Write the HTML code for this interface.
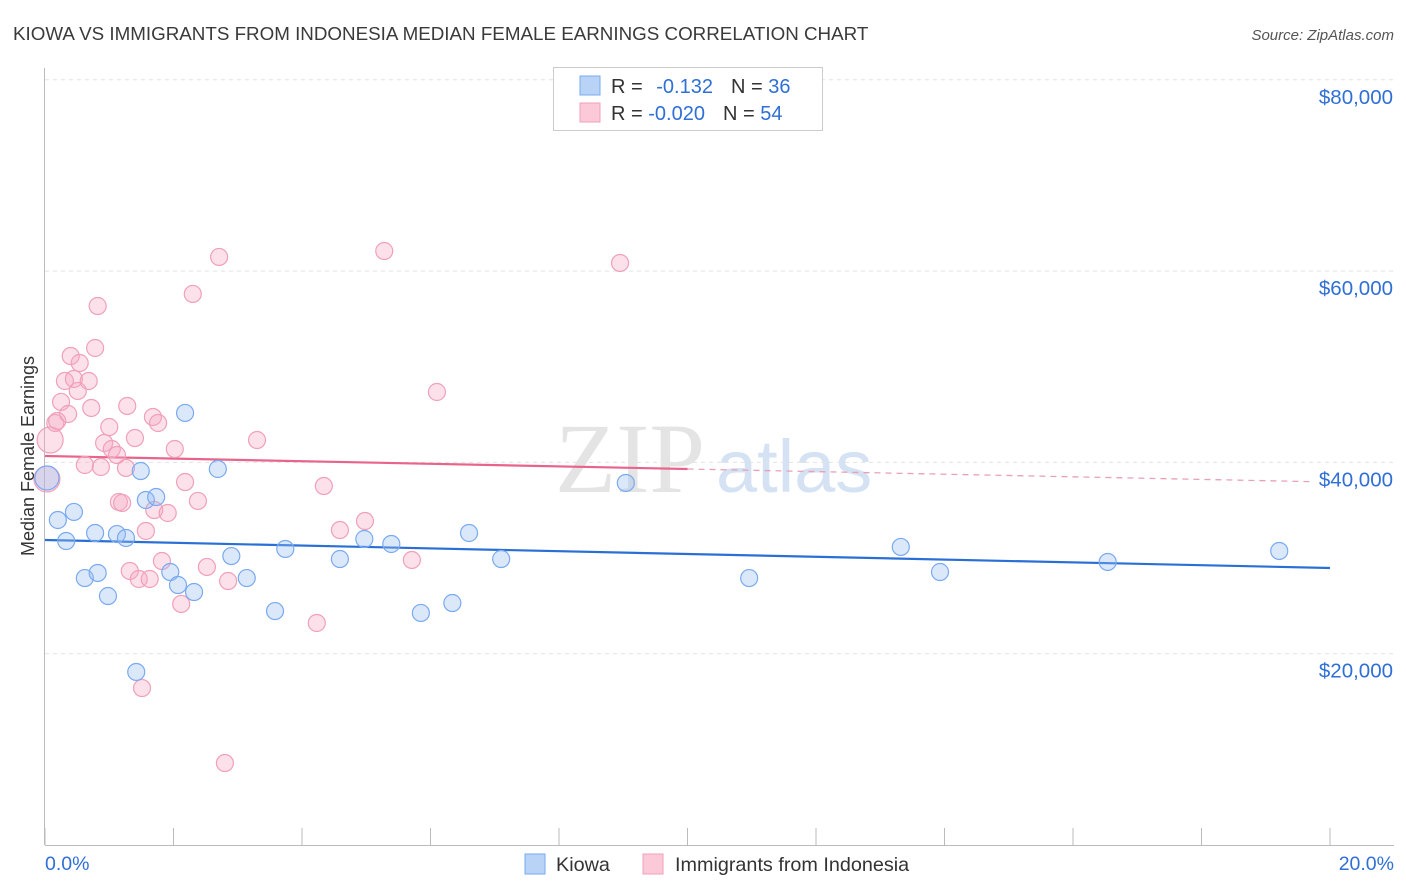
<!DOCTYPE html>
<html><head><meta charset="utf-8">
<style>
body{margin:0;background:#fff;font-family:"Liberation Sans",sans-serif;}
svg{display:block}
</style></head>
<body>
<svg id="chart" width="1406" height="892">
<text x="13" y="40" font-size="18.8" fill="#3a3a3a">KIOWA VS IMMIGRANTS FROM INDONESIA MEDIAN FEMALE EARNINGS CORRELATION CHART</text>
<text x="1394" y="40" font-size="15" fill="#555" font-style="italic" text-anchor="end">Source: ZipAtlas.com</text>
<text x="555" y="492" font-size="100" fill="#e4e4e4" font-family="Liberation Serif,serif">ZIP</text>
<text x="716" y="492" font-size="74" fill="#d4e2f4">atlas</text>
<g id="grid"></g>
<g id="axes"></g>
<g id="trends"></g>
<g id="pts"></g>
<text transform="translate(34,456) rotate(-90)" font-size="18" fill="#333" text-anchor="middle">Median Female Earnings</text>
<g>
<rect x="553.5" y="67.5" width="269" height="63" fill="#fff" stroke="#ccc"/>
<rect x="580" y="76" width="20" height="19" fill="#b8d3f5" stroke="#7aaaf0"/>
<rect x="580" y="103" width="20" height="19" fill="#fbc9d8" stroke="#f0a0b8"/>
<text x="611" y="93" font-size="20" fill="#333">R = <tspan fill="#2f6fd6" dx="8">-0.132</tspan><tspan dx="18" fill="#333">N = </tspan><tspan fill="#2f6fd6">36</tspan></text>
<text x="611" y="120" font-size="20" fill="#333">R = <tspan fill="#2f6fd6">-0.020</tspan><tspan dx="18" fill="#333">N = </tspan><tspan fill="#2f6fd6">54</tspan></text>
</g>
<g>
<rect x="525" y="854" width="20" height="20" fill="#b8d3f5" stroke="#7aaaf0"/>
<text x="556" y="871" font-size="19.8" fill="#333">Kiowa</text>
<rect x="643" y="854" width="20" height="20" fill="#fbc9d8" stroke="#f0a0b8"/>
<text x="675" y="871" font-size="19.8" fill="#333">Immigrants from Indonesia</text>
</g>
</svg>
<script>
const yTicks=[20000,40000,60000,80000];
const yTickLabels=["$20,000","$40,000","$60,000","$80,000"];
const xTicks=[0,2,4,6,8,10,12,14,16,18,20];
const kiowaX=[0.03,0.20,0.33,0.45,0.62,0.78,0.82,0.98,1.12,1.26,1.42,1.49,1.57,1.73,1.95,2.07,2.18,2.32,2.69,2.90,3.14,3.58,3.74,4.59,4.97,5.39,5.85,6.34,6.60,7.10,9.04,10.96,13.32,13.93,16.54,19.21];
const kiowaY=[38370,33980,31780,34820,27910,32620,28440,26030,32510,32100,18090,39100,36070,36380,28540,27180,45170,26450,39310,30210,27910,24460,30950,29900,31990,31470,24260,25300,32620,29900,37850,27910,31160,28540,29590,30740];
const indoX=[0.03,0.08,0.16,0.19,0.25,0.31,0.36,0.40,0.45,0.51,0.54,0.62,0.68,0.72,0.78,0.82,0.87,0.92,1.00,1.04,1.12,1.15,1.20,1.26,1.28,1.32,1.40,1.46,1.51,1.57,1.63,1.68,1.70,1.76,1.82,1.91,2.02,2.12,2.18,2.30,2.38,2.52,2.71,2.80,2.85,3.30,4.23,4.34,4.59,4.98,5.28,5.71,6.10,8.95];
const indoY=[38270,42340,44120,44330,46320,48510,45060,51120,48720,47470,50390,39730,48510,45690,51960,56350,39520,42030,43700,41400,40770,35860,35760,39420,45900,28650,42550,27810,16410,32830,27810,44750,35020,44120,29690,34710,41400,25200,37950,57610,35970,29070,61480,8570,27600,42340,23210,37530,32930,33870,62100,29800,47360,60850];
const kiowaTrend=[31890,28960];
const indoTrend=[40670,37950];
const NS="http://www.w3.org/2000/svg";
const X=v=>45+v/20*1285;
const Y=v=>845-v/20000*191.3;
function mk(tag,attrs,parent){const e=document.createElementNS(NS,tag);for(const k in attrs)e.setAttribute(k,attrs[k]);document.getElementById(parent).appendChild(e);return e;}
yTicks.forEach((t,i)=>{
 const g=mk('line',{x1:45,x2:1394,y1:Y(t),y2:Y(t),stroke:'#e2e2e2','stroke-dasharray':'4,4'},'grid');
 
 
 const l=mk('text',{x:1393,y:Y(t)+24,'font-size':20.5,fill:'#2f6fd6','text-anchor':'end'},'axes');
 l.textContent=yTickLabels[i];
 
 
});
const ya=mk('line',{x1:44.5,x2:44.5,y1:68,y2:845,stroke:'#bbb'},'axes');


const xa=mk('line',{x1:45,x2:1394,y1:845.5,y2:845.5,stroke:'#bbb'},'axes');


xTicks.forEach(t=>{
 const e=mk('line',{x1:X(t),x2:X(t),y1:828,y2:845,stroke:'#bbb'},'axes');
 
 
});
const xl0=mk('text',{x:45,y:870,'font-size':19.5,fill:'#2f6fd6'},'axes');xl0.textContent='0.0%';


const xl1=mk('text',{x:1394,y:870,'font-size':19.5,fill:'#2f6fd6','text-anchor':'end'},'axes');xl1.textContent='20.0%';


const kt=mk('line',{x1:X(0),y1:Y(kiowaTrend[0]),x2:X(20),y2:Y(kiowaTrend[1]),stroke:'#2a6fd6','stroke-width':2.2},'trends');


const im=(indoTrend[0]+indoTrend[1])/2;
const it=mk('line',{x1:X(0),y1:Y(indoTrend[0]),x2:X(10),y2:Y(im),stroke:'#e8648c','stroke-width':2.2},'trends');


const itd=mk('line',{x1:X(10),y1:Y(im),x2:X(19.7),y2:Y(indoTrend[0]+(indoTrend[1]-indoTrend[0])*19.7/20),stroke:'#e8a0b5','stroke-width':1.3,'stroke-dasharray':'6,5'},'trends');


indoX.forEach((x,i)=>{
 const r=i<2?13:8.5;
 const c=mk('circle',{cx:X(x),cy:Y(indoY[i]),r:r,fill:'rgba(246,170,195,0.35)',stroke:'#f0a0b8','stroke-width':1.2},'pts');
 
 
});
kiowaX.forEach((x,i)=>{
 const r=i==0?12:8.5;
 const c=mk('circle',{cx:X(x),cy:Y(kiowaY[i]),r:r,fill:'rgba(150,190,240,0.35)',stroke:'#7aaaf0','stroke-width':1.2},'pts');
 
 
});
</script>
</body></html>
